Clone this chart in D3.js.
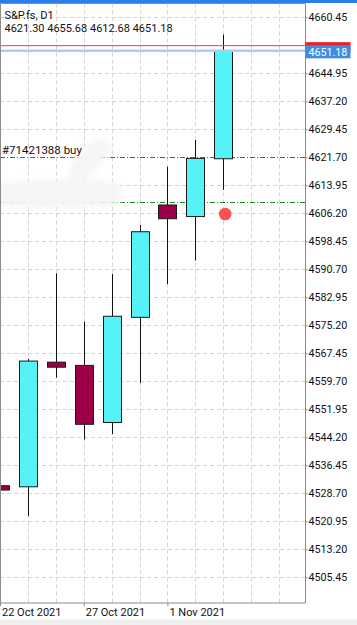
<!DOCTYPE html>
<html>
<head>
<meta charset="utf-8">
<script src="https://cdn.jsdelivr.net/npm/d3@7"></script>
<style>
  body { margin: 0; background: #fff; }
  #vis svg { display: block; font-family: Roboto, "Noto Sans", sans-serif; }
</style>
</head>
<body>
<div id="vis"></div>
<script>
// daily bars, S&P futures
var dates  = ["22 Oct 2021", "25 Oct 2021", "26 Oct 2021", "27 Oct 2021", "28 Oct 2021",
              "29 Oct 2021", "1 Nov 2021", "2 Nov 2021", "3 Nov 2021"];
var opens  = [4530.8, 4530.5, 4565.0, 4564.1, 4548.3, 4577.4, 4608.5, 4605.3, 4621.30];
var highs  = [4551.3, 4565.9, 4589.6, 4576.2, 4589.4, 4603.0, 4619.1, 4626.5, 4655.68];
var lows   = [4515.3, 4522.4, 4560.7, 4543.6, 4545.1, 4559.2, 4586.6, 4593.1, 4612.68];
var closes = [4529.6, 4565.3, 4563.6, 4547.8, 4577.7, 4601.1, 4604.7, 4621.4, 4651.18];

var priceTicks = [4660.45, 4644.95, 4637.20, 4629.45, 4621.70, 4613.95, 4606.20, 4598.45,
                  4590.70, 4582.95, 4575.20, 4567.45, 4559.70, 4551.95, 4544.20, 4536.45,
                  4528.70, 4520.95, 4513.20, 4505.45];
var dateTickIdx = [0, 3, 6];
var dateTickText = ["22 Oct 2021", "27 Oct 2021", "1 Nov 2021"];

var orderLevels = [4621.70, 4609.30];
var orderLabel = "#71421388 buy";
var bidPrice = 4651.18;
var askPrice = 4652.60;
var signalIdx = 8, signalPrice = 4606.0;

var W = 357, H = 625;
var plot = { left: 0, right: 305, top: 3.5, bottom: 603 };

var scales = {
  x: d3.scaleLinear().domain([0, 10]).range([0, 279]),
  y: d3.scaleLinear().domain([4505.45, 4660.45]).range([577.3, 17.3])
};
var bodyW = 18;
var fmt = d3.format(".2f");

var svg = d3.select("#vis")
  .append("svg")
  .attr("width", W)
  .attr("height", H);

var defs = svg.append("defs");
defs.append("clipPath")
  .attr("id", "plotclip")
  .append("rect")
  .attr("x", plot.left)
  .attr("y", plot.top)
  .attr("width", plot.right - plot.left)
  .attr("height", plot.bottom - plot.top);
defs.append("filter")
  .attr("id", "smudge")
  .attr("x", "-20%").attr("y", "-50%").attr("width", "140%").attr("height", "200%")
  .append("feGaussianBlur")
  .attr("stdDeviation", 3);

// top bar + bottom strip
svg.append("rect").attr("x", 0).attr("y", 0).attr("width", W).attr("height", 3).attr("fill", "#2b7de9");
svg.append("rect").attr("x", 0).attr("y", 619.5).attr("width", W).attr("height", 6).attr("fill", "#efefef");

var g = svg.append("g").attr("clip-path", "url(#plotclip)");

// grid (skip rows that carry an order line)
g.selectAll(".hgrid")
  .data(priceTicks.filter(function(d) { return orderLevels.indexOf(d) < 0; }))
  .enter()
  .append("line")
  .attr("class", "hgrid")
  .attr("x1", plot.left).attr("x2", plot.right)
  .attr("y1", function(d) { return Math.round(scales.y(d)) + 0.5; })
  .attr("y2", function(d) { return Math.round(scales.y(d)) + 0.5; })
  .attr("stroke", "#d4d4d4")
  .attr("stroke-dasharray", "4,3");

g.selectAll(".vgrid")
  .data(d3.range(1, 11))
  .enter()
  .append("line")
  .attr("class", "vgrid")
  .attr("x1", function(d) { return Math.round(scales.x(d)) + 0.5; })
  .attr("x2", function(d) { return Math.round(scales.x(d)) + 0.5; })
  .attr("y1", plot.top).attr("y2", plot.bottom)
  .attr("stroke", "#d4d4d4")
  .attr("stroke-dasharray", "4,3");

// order levels
g.selectAll(".order")
  .data(orderLevels)
  .enter()
  .append("line")
  .attr("class", "order")
  .attr("x1", plot.left).attr("x2", plot.right)
  .attr("y1", function(d) { return Math.round(scales.y(d)) + 0.5; })
  .attr("y2", function(d) { return Math.round(scales.y(d)) + 0.5; })
  .attr("stroke", "#1e8c1e")
  .attr("stroke-dasharray", "5,2,1,2");

// redacted areas
var smudges = g.append("g").attr("filter", "url(#smudge)").attr("fill", "#f5f5f5");
smudges.append("path")
  .attr("d", "M100,139 C112,138 116,146 108,155 C100,165 92,176 80,181 C70,184 66,172 72,163 C80,152 88,140 100,139 Z");
smudges.append("path")
  .attr("d", "M-6,184 C30,180 90,178 116,183 C126,188 124,200 114,205 C80,209 30,208 -6,206 Z");

// candles
var idx = d3.range(dates.length);
var candles = g.selectAll(".candle")
  .data(idx)
  .enter()
  .append("g")
  .attr("class", "candle");

candles.append("line")
  .attr("x1", function(i) { return Math.round(scales.x(i)) + 0.5; })
  .attr("x2", function(i) { return Math.round(scales.x(i)) + 0.5; })
  .attr("y1", function(i) { return scales.y(highs[i]); })
  .attr("y2", function(i) { return scales.y(lows[i]); })
  .attr("stroke", "#111")
  .attr("stroke-width", 1);

candles.append("rect")
  .attr("x", function(i) { return Math.round(scales.x(i)) - bodyW / 2 + 0.5; })
  .attr("y", function(i) { return scales.y(Math.max(opens[i], closes[i])); })
  .attr("width", bodyW)
  .attr("height", function(i) { return Math.max(1, Math.abs(scales.y(opens[i]) - scales.y(closes[i]))); })
  .attr("fill", function(i) { return closes[i] >= opens[i] ? "#55f2f8" : "#9c0047"; })
  .attr("stroke", "#1a1a1a")
  .attr("stroke-width", 1);

// order label
g.append("text")
  .attr("x", 2)
  .attr("y", scales.y(orderLevels[0]) - 3)
  .attr("font-size", "11.5px")
  .attr("fill", "#111")
  .text(orderLabel);

// ask / bid lines
g.append("line")
  .attr("x1", plot.left).attr("x2", plot.right)
  .attr("y1", scales.y(askPrice)).attr("y2", scales.y(askPrice))
  .attr("stroke", "#e04848").attr("stroke-width", 1);
g.append("line")
  .attr("x1", plot.left).attr("x2", plot.right)
  .attr("y1", scales.y(bidPrice)).attr("y2", scales.y(bidPrice))
  .attr("stroke", "#a9cdf4").attr("stroke-width", 2.5);

// signal dot
g.append("circle")
  .attr("cx", scales.x(signalIdx) + 2)
  .attr("cy", scales.y(signalPrice))
  .attr("r", 6.3)
  .attr("fill", "#ff5050");

// header
svg.append("text")
  .attr("x", 4.5).attr("y", 19)
  .attr("font-size", "11px").attr("fill", "#111")
  .text("S&P.fs, D1");
var last = dates.length - 1;
svg.append("text")
  .attr("x", 4.5).attr("y", 32)
  .attr("font-size", "11px").attr("fill", "#111")
  .text([opens[last], highs[last], lows[last], closes[last]].map(fmt).join(" "));

// frame
svg.append("path")
  .attr("d", "M0.5," + plot.bottom + " V" + plot.top + " H" + (plot.right + 0.5) + " V" + plot.bottom + " H0.5")
  .attr("fill", "none")
  .attr("stroke", "#8c8c8c")
  .attr("stroke-width", 1);

// price axis
var y_axis = d3.axisRight(scales.y)
  .tickValues(priceTicks)
  .tickFormat(fmt)
  .tickSize(2)
  .tickPadding(1);
svg.append("g")
  .attr("class", "y_axis")
  .attr("transform", "translate(" + (plot.right + 0.5) + ",0)")
  .call(y_axis)
  .call(function(a) {
    a.select(".domain").remove();
    a.selectAll("line").attr("stroke", "#8c8c8c");
    a.selectAll("text").attr("font-size", "10.7px").attr("fill", "#111").attr("font-family", "Roboto, sans-serif");
  });

// ask tag sits mostly behind the bid tag
svg.append("rect")
  .attr("x", plot.right + 0.5)
  .attr("y", scales.y(askPrice) - 3.5)
  .attr("width", 45)
  .attr("height", 10)
  .attr("fill", "#f01e1e");

var bidTag = svg.append("g").attr("transform", "translate(" + (plot.right + 0.5) + "," + scales.y(bidPrice) + ")");
bidTag.append("rect").attr("x", 0).attr("y", -5.5).attr("width", 45).attr("height", 13).attr("fill", "#3a8ee8");
bidTag.append("text").attr("x", 3).attr("y", 1).attr("dy", "0.35em")
  .attr("font-size", "10.7px").attr("fill", "#fff")
  .text(fmt(bidPrice));

// date axis
var x_axis = d3.axisBottom(scales.x)
  .tickValues(dateTickIdx)
  .tickFormat(function(d, k) { return dateTickText[k]; })
  .tickSize(3)
  .tickPadding(2);
svg.append("g")
  .attr("class", "x_axis")
  .attr("transform", "translate(0," + plot.bottom + ")")
  .call(x_axis)
  .call(function(a) {
    a.select(".domain").remove();
    a.selectAll("line").attr("stroke", "#8c8c8c");
    a.selectAll("text")
      .attr("text-anchor", "start")
      .attr("x", 1.5)
      .attr("font-size", "11px").attr("fill", "#111").attr("font-family", "Roboto, sans-serif");
  });
</script>
</body>
</html>
